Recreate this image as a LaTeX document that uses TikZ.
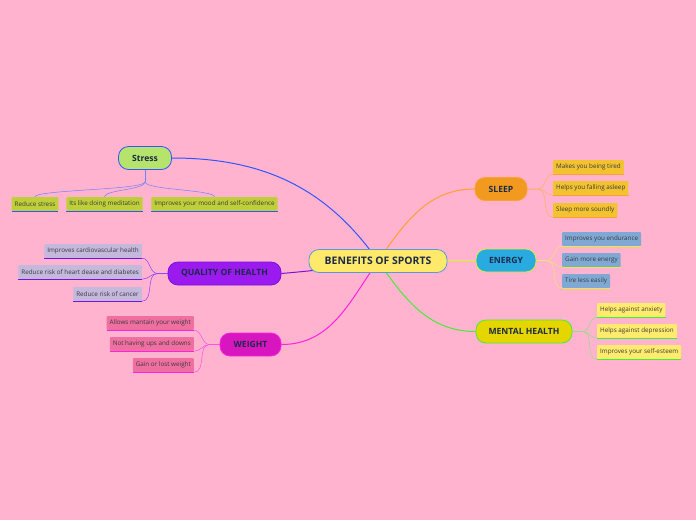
\documentclass[tikz,border=0pt]{standalone}
\usepackage{fontspec}
\setmainfont{Open Sans}
\usetikzlibrary{backgrounds}

\definecolor{bgpink}{HTML}{FFB3CF}
\definecolor{navytxt}{HTML}{1B2A48}
\definecolor{leaftxt}{HTML}{3A3A3A}
\definecolor{rootfill}{HTML}{FFE96B}
\definecolor{rootline}{HTML}{5B9BD5}
\definecolor{strfill}{HTML}{B5E36B}
\definecolor{strline}{HTML}{3355FF}
\definecolor{strleaf}{HTML}{BFCF3A}
\definecolor{strtwig}{HTML}{7080FF}
\definecolor{qualfill}{HTML}{9A1AF0}
\definecolor{qualline}{HTML}{7A10E0}
\definecolor{qualleaf}{HTML}{C4B8DC}
\definecolor{qualtwig}{HTML}{8A40FF}
\definecolor{wgtfill}{HTML}{D816C0}
\definecolor{wgtline}{HTML}{FF20E0}
\definecolor{wgtleaf}{HTML}{EE6FA0}
\definecolor{wgttwig}{HTML}{FF50E6}
\definecolor{slpfill}{HTML}{F29A1F}
\definecolor{slpline}{HTML}{FFA030}
\definecolor{slpleaf}{HTML}{F2C230}
\definecolor{slptwig}{HTML}{FFB060}
\definecolor{enrfill}{HTML}{29ABE2}
\definecolor{enrline}{HTML}{E0F030}
\definecolor{enrleaf}{HTML}{7FA9D4}
\definecolor{enrtwig}{HTML}{E8E870}
\definecolor{mntfill}{HTML}{E5D600}
\definecolor{mntline}{HTML}{44EE33}
\definecolor{mntleaf}{HTML}{FFEC6E}
\definecolor{mnttwig}{HTML}{90E080}

\newcommand{\stub}{10}   % straight piece before the twigs fan out

\tikzset{
  topic/.style={draw, line width=0.8pt, rounded corners=10pt, minimum height=23pt,
    inner xsep=5pt, text=navytxt, font=\bfseries\fontsize{8.6}{9}\selectfont},
  leaf/.style={fill, rounded corners=1pt, minimum height=14pt, inner xsep=3pt,
    inner ysep=0pt, text=leaftxt, font=\fontsize{6.3}{7}\selectfont},
  link/.style={line width=1pt},
  twig/.style={line width=0.5pt},
  under/.style={line width=1.2pt},
}

\begin{document}
\begin{tikzpicture}[x=1pt,y=-1pt]
  \begin{pgfonlayer}{background}
    \fill[bgpink] (0,0) rectangle (696,520);
  \end{pgfonlayer}
  \useasboundingbox (0,0) rectangle (696,520);
%
  % main topics
  \node[topic, fill=rootfill, draw=rootline, minimum width=138pt,
        font=\bfseries\fontsize{10.4}{11}\selectfont] (root) at (378,261) {BENEFITS OF SPORTS};
  \node[topic, fill=strfill, draw=strline, minimum width=53pt] (stress) at (145,158) {Stress};
  \node[topic, fill=qualfill, draw=qualline, minimum width=113pt] (qual) at (224.5,273.5) {QUALITY OF HEALTH};
  \node[topic, fill=wgtfill, draw=wgtline, minimum width=61pt] (weight) at (250.5,344.5) {WEIGHT};
  \node[topic, fill=slpfill, draw=slpline, minimum width=52pt] (sleep) at (501,189) {SLEEP};
  \node[topic, fill=enrfill, draw=enrline, minimum width=60pt] (energy) at (506,260.5) {ENERGY};
  \node[topic, fill=mntfill, draw=mntline, minimum width=96pt] (mental) at (524,331.5) {MENTAL HEALTH};
%
  % leaves
  \node[leaf, fill=strleaf] (st1) at (35,204) {Reduce stress};
  \node[leaf, fill=strleaf] (st2) at (104.5,204) {Its like doing meditation};
  \node[leaf, fill=strleaf] (st3) at (214.5,204) {Improves your mood and self-confidence};
  \node[leaf, fill=qualleaf, anchor=east] (q1) at (142,251) {Improves cardiovascular health};
  \node[leaf, fill=qualleaf, anchor=east] (q2) at (142,272) {Reduce risk of heart dease and diabetes};
  \node[leaf, fill=qualleaf, anchor=east] (q3) at (142,294) {Reduce risk of cancer};
  \node[leaf, fill=wgtleaf, anchor=east] (w1) at (194,323) {Allows mantain your weight};
  \node[leaf, fill=wgtleaf, anchor=east] (w2) at (194,344) {Not having ups and downs};
  \node[leaf, fill=wgtleaf, anchor=east] (w3) at (194,365) {Gain or lost weight};
  \node[leaf, fill=slpleaf, anchor=west] (s1) at (553,167) {Makes you being tired};
  \node[leaf, fill=slpleaf, anchor=west] (s2) at (553,188) {Helps you falling asleep};
  \node[leaf, fill=slpleaf, anchor=west] (s3) at (553,210) {Sleep more soundly};
  \node[leaf, fill=enrleaf, anchor=west] (e1) at (562,239) {Improves you endurance};
  \node[leaf, fill=enrleaf, anchor=west] (e2) at (562,260) {Gain more energy};
  \node[leaf, fill=enrleaf, anchor=west] (e3) at (562,281) {Tire less easily};
  \node[leaf, fill=mntleaf, anchor=west] (m1) at (597,310) {Helps against anxiety};
  \node[leaf, fill=mntleaf, anchor=west] (m2) at (597,331) {Helps against depression};
  \node[leaf, fill=mntleaf, anchor=west] (m3) at (597,352) {Improves your self-esteem};
%
  \begin{pgfonlayer}{background}
    % branches from the root
    \draw[link, strline] (stress.east) to[out=0,in=125] (root.center);
    \draw[link, qualline] (qual.east) to[out=5,in=190] (root.center);
    \draw[link, wgtline] (weight.east) to[out=0,in=-125] (root.center);
    \draw[link, slpline] (sleep.west) to[out=180,in=55] (root.center);
    \draw[link, enrline] (energy.west) -- (root.center);
    \draw[link, mntline] (mental.west) to[out=180,in=-55] (root.center);
    % twigs
    \draw[twig, strtwig] (stress.south) -- ++(0,12) coordinate (sk);
    \foreach \lf in {st1,st2,st3}
      \draw[twig, strtwig] (sk) .. controls +(0,8) and +(0,-7) .. (\lf.north);
    \foreach \lf in {q1,q2,q3}
      \draw[twig, qualtwig] (qual.west) -- ++(-\stub,0) to[out=180,in=0] (\lf.south east);
    \foreach \lf in {w1,w2,w3}
      \draw[twig, wgttwig] (weight.west) -- ++(-\stub,0) to[out=180,in=0] (\lf.south east);
    \foreach \lf in {s1,s2,s3}
      \draw[twig, slptwig] (sleep.east) -- ++(\stub,0) to[out=0,in=180] (\lf.south west);
    \foreach \lf in {e1,e2,e3}
      \draw[twig, enrtwig] (energy.east) -- ++(\stub,0) to[out=0,in=180] (\lf.south west);
    \foreach \lf in {m1,m2,m3}
      \draw[twig, mnttwig] (mental.east) -- ++(\stub,0) to[out=0,in=180] (\lf.south west);
  \end{pgfonlayer}
%
  % underlines of the leaves
  \foreach \lf in {st1,st2,st3}
    \draw[under, strline] (\lf.south west) -- (\lf.south east);
  \foreach \lf in {q1,q2,q3}
    \draw[under, qualline] (\lf.south west) -- (\lf.south east);
  \foreach \lf in {w1,w2,w3}
    \draw[under, wgtline] (\lf.south west) -- (\lf.south east);
  \foreach \lf in {s1,s2,s3}
    \draw[under, slpline] (\lf.south west) -- (\lf.south east);
  \foreach \lf in {e1,e2,e3}
    \draw[under, enrline] (\lf.south west) -- (\lf.south east);
  \foreach \lf in {m1,m2,m3}
    \draw[under, mntline] (\lf.south west) -- (\lf.south east);
\end{tikzpicture}
\end{document}
